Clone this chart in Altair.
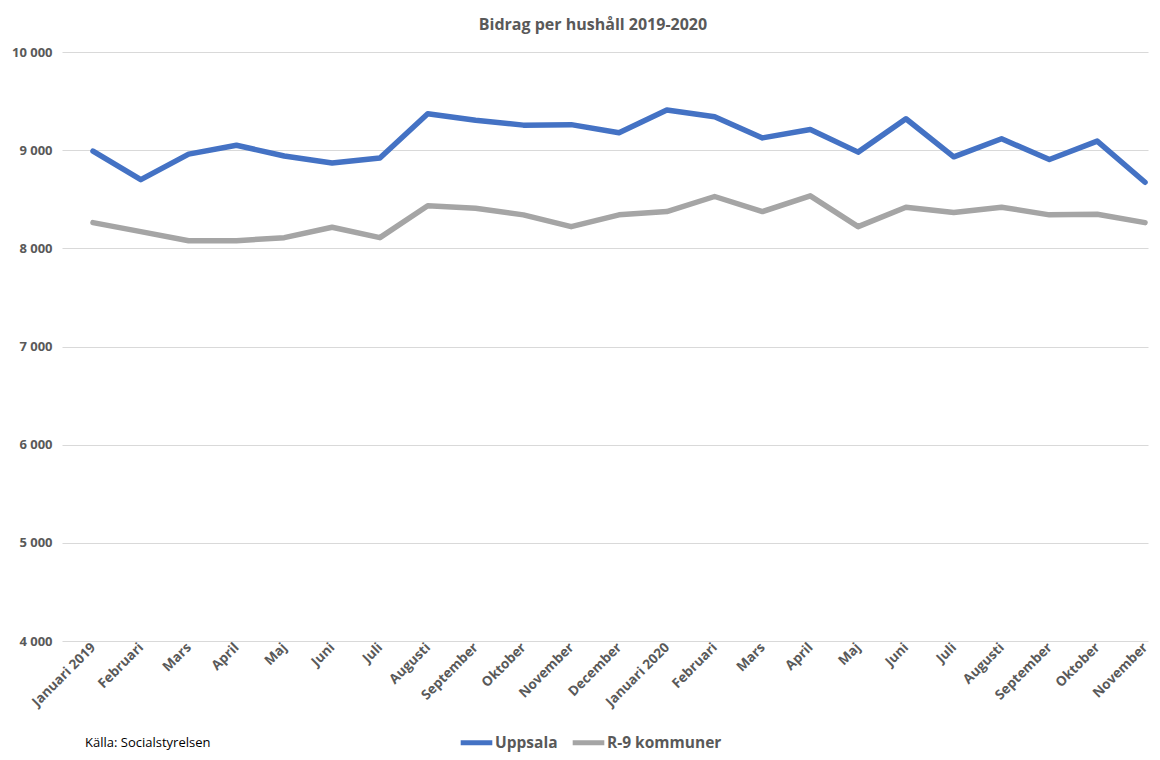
import altair as alt
import pandas as pd

months = ["Januari 2019", "Februari", "Mars", "April", "Maj", "Juni", "Juli", "Augusti",
          "September", "Oktober", "November", "December", "Januari 2020", "Februari",
          "Mars", "April", "Maj", "Juni", "Juli", "Augusti", "September", "Oktober", "November"]
uppsala = [8990, 8700, 8960, 9050, 8940, 8870, 8920, 9370, 9305, 9255, 9260, 9177,
           9409, 9340, 9125, 9210, 8980, 9320, 8932, 9116, 8905, 9092, 8673]
r9 = [8262, 8170, 8078, 8078, 8109, 8215, 8109, 8433, 8409, 8341, 8221, 8341,
      8375, 8528, 8375, 8535, 8221, 8419, 8365, 8419, 8341, 8348, 8262]
series = ["Uppsala", "R-9 kommuner"]
colors = ["#4472C4", "#A5A5A5"]
y_ticks = [4000, 5000, 6000, 7000, 8000, 9000, 10000]

rows = []
for i, m in enumerate(months):
    rows.append({"i": i, "serie": series[0], "v": uppsala[i]})
    rows.append({"i": i, "serie": series[1], "v": r9[i]})
df = pd.DataFrame(rows)

label_arr = "[" + ",".join("'" + m + "'" for m in months) + "]"

font = "Open Sans"
gray = "#595959"

lines = alt.Chart(df).mark_line(strokeWidth=5.5, strokeCap="round", strokeJoin="round").encode(
    x=alt.X("i:Q", scale=alt.Scale(domain=[-0.648, 22.062], nice=False, zero=False),
            axis=alt.Axis(title=None, values=list(range(len(months))), labelAngle=-45,
                          labelAlign="right", labelBaseline="middle",
                          labelExpr=label_arr + "[datum.value]",
                          labelFont=font, labelFontSize=13.5, labelFontWeight="bold",
                          labelColor=gray, ticks=False, domain=False, grid=False,
                          labelPadding=4, labelFlush=False, labelOverlap=False, labelBound=False)),
    y=alt.Y("v:Q", scale=alt.Scale(domain=[4000, 10000], nice=False, zero=False),
            axis=alt.Axis(title=None, values=y_ticks,
                          labelExpr="replace(format(datum.value, ',d'), ',', ' ')",
                          labelFont=font, labelFontSize=13, labelFontWeight="bold",
                          labelColor=gray, ticks=False, domain=False, grid=True,
                          gridColor="#D9D9D9", gridWidth=1, labelPadding=10)),
    color=alt.Color("serie:N", scale=alt.Scale(domain=series, range=colors),
                    sort=series,
                    legend=alt.Legend(title=None, orient="none", legendX=396, legendY=672,
                                      direction="horizontal", symbolType="stroke",
                                      symbolStrokeWidth=5, symbolSize=1000, padding=0,
                                      labelFont=font, labelFontSize=15.5, labelFontWeight="bold",
                                      labelColor=gray, columnPadding=4, labelOffset=0)),
)

source = alt.Chart(pd.DataFrame({"t": ["Källa: Socialstyrelsen"]})).mark_text(
    align="left", baseline="middle", font=font, fontSize=13, color="#000000"
).encode(x=alt.value(23), y=alt.value(691), text="t:N")

chart = alt.layer(lines, source).properties(
    width=1086, height=589,
    autosize=alt.AutoSizeParams(type="none"),
    padding={"left": 54, "top": 44, "right": 4, "bottom": 111},
    title=alt.TitleParams("Bidrag per hushåll 2019-2020", font=font, fontSize=16,
                          fontWeight="bold", color=gray, anchor="middle", offset=13, dx=-12),
).configure_view(stroke=None)

chart.save("out.html", embed_options={"renderer": "svg", "actions": False})
